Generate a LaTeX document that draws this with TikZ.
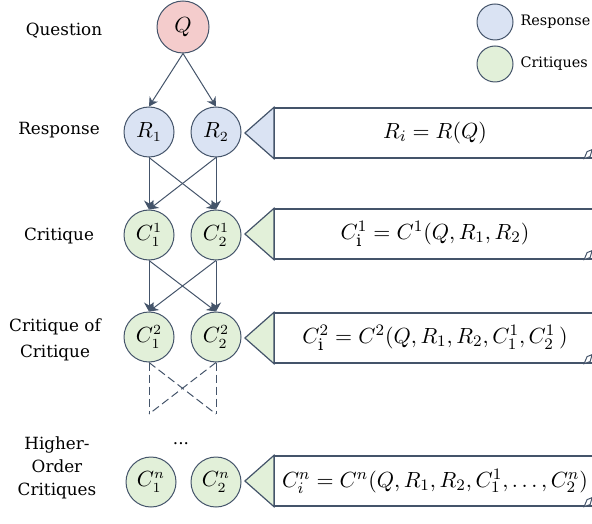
\documentclass[tikz,border=0pt]{standalone}
\usepackage{fontspec}
\setmainfont{DejaVu Serif}
\usetikzlibrary{arrows.meta}
\definecolor{qfill}{HTML}{F4CCCC}
\definecolor{rfill}{HTML}{DAE3F3}
\definecolor{cfill}{HTML}{E2F0D9}
\definecolor{edge}{HTML}{44546A}
\begin{document}
\begin{tikzpicture}[
    x=0.5pt, y=-0.5pt,
    ball/.style={draw=edge, circle, minimum size=25pt, inner sep=0pt, line width=0.5pt, font=\fontsize{10.5}{12}\selectfont},
    qball/.style={ball, fill=qfill, minimum size=26pt},
    rball/.style={ball, fill=rfill},
    cball/.style={ball, fill=cfill},
    legball/.style={draw=edge, circle, minimum size=18pt, inner sep=0pt, line width=0.5pt},
    eqbox/.style={draw=edge, fill=white, line width=0.6pt, minimum width=160.5pt, minimum height=25pt, inner sep=0pt, font=\fontsize{10.95}{13}\selectfont},
    rowlabel/.style={align=center, font=\fontsize{8.4}{12}\selectfont},
    flow/.style={draw=edge, line width=0.5pt, -{Stealth[length=4.5pt, width=5pt]}},
    guess/.style={draw=edge, line width=0.5pt, dash pattern=on 4pt off 2pt}
]
\clip (0,0) rectangle (592,523);

% row labels
\node[rowlabel] (lq) at (64,31) {Question};
\node[rowlabel] (lr) at (59,130) {Response};
\node[rowlabel] (lc) at (59,236) {Critique};
\node[rowlabel, font=\fontsize{8.4}{13}\selectfont] (lcc) at (55,340) {Critique of\\Critique};
\node[rowlabel, font=\fontsize{8.4}{11.5}\selectfont] (lh) at (57,468) {Higher-\\Order\\Critiques};

% legend
\node[legball, fill=rfill] (kr) at (495,22) {};
\node[legball, fill=cfill] (kc) at (495,64) {};
\node[right, font=\fontsize{7.2}{9}\selectfont] (tr) at (kr.east) {Response};
\node[right, font=\fontsize{7.2}{9}\selectfont] (tc) at (kc.east) {Critiques};

% tree
\node[qball] (Q) at (183,27) {$Q$};
\node[rball] (R1) at (149,132) {$R_1$};
\node[rball] (R2) at (216,132) {$R_2$};
\node[cball] (C11) at (149,235) {$C_1^1$};
\node[cball] (C12) at (216,235) {$C_2^1$};
\node[cball] (C21) at (149,337) {$C_1^2$};
\node[cball] (C22) at (216,337) {$C_2^2$};
\node[font=\fontsize{8.4}{10}\selectfont] (dots) at (181,444) {...};
\node[cball] (Cn1) at (151,482) {$C_1^n$};
\node[cball] (Cn2) at (216,482) {$C_2^n$};

\draw[flow] (Q.south) -- (R1.north);
\draw[flow] (Q.south) -- (R2.north);
\draw[flow] (R1.south) -- (C11.north);
\draw[flow] (R1.south) -- (C12.north);
\draw[flow] (R2.south) -- (C11.north);
\draw[flow] (R2.south) -- (C12.north);
\draw[flow] (C11.south) -- (C21.north);
\draw[flow] (C11.south) -- (C22.north);
\draw[flow] (C12.south) -- (C21.north);
\draw[flow] (C12.south) -- (C22.north);

\coordinate (d1) at (149,414);
\coordinate (d2) at (216,414);
\draw[guess] (C21.south) -- (d1);
\draw[guess] (C21.south) -- (d2);
\draw[guess] (C22.south) -- (d1);
\draw[guess] (C22.south) -- (d2);

% formula boxes
\node[eqbox] (eqR) at (435,133) {$R_i = R(Q)$};
\node[eqbox] (eqC) at (435,234) {$C_{\mathrm{i}}^1 = C^1(Q, R_1, R_2)$};
\node[eqbox] (eqCC) at (435,338) {$C_{\mathrm{i}}^2 = C^2(Q, R_1, R_2, C_1^1, C_2^1\,)$};
\node[eqbox] (eqH) at (435,481) {$C_i^n = C^n(Q, R_1, R_2, C_1^1, \dots, C_2^n)$};

\filldraw[draw=edge, fill=rfill, line width=0.6pt] (eqR.north west) -- ([xshift=-14.5pt]eqR.west) -- (eqR.south west) -- cycle;
\filldraw[draw=edge, fill=cfill, line width=0.6pt] (eqC.north west) -- ([xshift=-14.5pt]eqC.west) -- (eqC.south west) -- cycle;
\filldraw[draw=edge, fill=cfill, line width=0.6pt] (eqCC.north west) -- ([xshift=-14.5pt]eqCC.west) -- (eqCC.south west) -- cycle;
\filldraw[draw=edge, fill=cfill, line width=0.6pt] (eqH.north west) -- ([xshift=-14.5pt]eqH.west) -- (eqH.south west) -- cycle;

% curled corners
\filldraw[draw=edge, fill=white, line width=0.5pt] ([xshift=-6pt]eqR.south east) -- ++(3,-7) -- ++(5,-2) -- ++(-2,7) -- cycle;
\filldraw[draw=edge, fill=white, line width=0.5pt] ([xshift=-6pt]eqC.south east) -- ++(3,-7) -- ++(5,-2) -- ++(-2,7) -- cycle;
\filldraw[draw=edge, fill=white, line width=0.5pt] ([xshift=-6pt]eqCC.south east) -- ++(3,-7) -- ++(5,-2) -- ++(-2,7) -- cycle;
\filldraw[draw=edge, fill=white, line width=0.5pt] ([xshift=-6pt]eqH.south east) -- ++(3,-7) -- ++(5,-2) -- ++(-2,7) -- cycle;
\end{tikzpicture}
\end{document}
